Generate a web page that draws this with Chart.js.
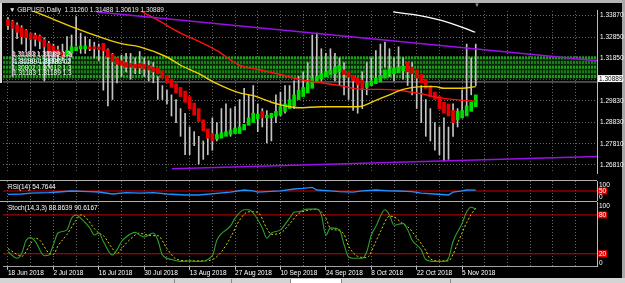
<!DOCTYPE html>
<html><head><meta charset="utf-8">
<script src="https://cdn.jsdelivr.net/npm/chart.js@4.4.0/dist/chart.umd.min.js"></script>
<style>
html,body{margin:0;padding:0;background:#000;width:625px;height:283px;overflow:hidden;font-family:"Liberation Sans",Arial,sans-serif}
.a{position:absolute}
.t{position:absolute;font-size:6.5px;line-height:7px;white-space:pre;color:#fff}
canvas{display:block}
</style></head><body>
<div class="a" style="left:0;top:0;width:625px;height:3px;background:#b4b4b4"></div>
<div class="a" style="left:0;top:3px;width:2px;height:80px;background:#d8d8d8"></div>
<div class="a" style="left:622px;top:0;width:3px;height:283px;background:#a8a8a8"></div>
<div class="a" style="left:0;top:278px;width:625px;height:5px;background:#d4d4d4"></div>
<div class="a" style="left:174px;top:279px;width:56px;height:4px;border-left:1px solid #888;border-right:1px solid #888"></div>
<div class="a" style="left:290px;top:279px;width:50px;height:4px;border-left:1px solid #888;border-right:1px solid #888;background:#fff"></div>
<div class="a" style="left:395px;top:279px;width:55px;height:4px;border-right:1px solid #888"></div>

<div class="a" style="left:3px;top:4px"><canvas id="main" width="622" height="176"></canvas></div>
<div class="a" style="left:3px;top:181px"><canvas id="rsi" width="622" height="20"></canvas></div>
<div class="a" style="left:3px;top:202px"><canvas id="stoch" width="622" height="76"></canvas></div>

<div class="a" style="left:0;top:180px;width:597px;height:1px;background:#b0b0b0"></div>
<div class="a" style="left:0;top:201px;width:597px;height:1px;background:#b0b0b0"></div>

<div class="t" style="left:9px;top:6px;color:#e8e8e8">▼ GBPUSD,Daily  1.31260 1.31488 1.30619 1.30889</div>
<div class="t" style="left:474px;top:2px;color:#8a8aa8;font-size:6px">▼</div>
<div class="t" style="left:12px;top:50px">1.31183 1.31189 1.3</div>
<div class="t" style="left:13px;top:51px;color:#ffc8e0">1.31188 1.31182 1.3</div>
<div class="t" style="left:12px;top:57px;color:#c8ffff">1.31190 1.30802 1.3</div>
<div class="t" style="left:14px;top:58px;color:#ffffff">1.31189 1.31183 02</div>
<div class="t" style="left:12px;top:64px;color:#d0ffd0">1.30802 1.30612 1.3</div>
<div class="t" style="left:13px;top:69px;color:#ffffff">1.31183 1.31189 1.3</div>
<div class="t" style="left:8px;top:183px">RSI(14) 54.7644</div>
<div class="t" style="left:8px;top:204px">Stoch(14,3,3) 88.8639 90.6167</div>

<script>
// ---------- data ----------
const dateLabels = ['18 Jun 2018','2 Jul 2018','16 Jul 2018','30 Jul 2018','13 Aug 2018','27 Aug 2018','10 Sep 2018','24 Sep 2018','8 Oct 2018','22 Oct 2018','5 Nov 2018'];
const gridIdx = [0,5,10,15,20,25,30,35,40,45,50,55,60,65,70,75,80,85,90,95,100,105,110,115,120,125];
const priceTicks = [1.26810,1.27810,1.28830,1.29830,1.30830,1.31850,1.32850,1.33870];
const lastClose = 1.30889;

const haOpen = [1.3369,1.3361,1.3343,1.3330,1.3317,1.3304,1.3295,1.3291,1.3274,1.3256,
1.3243,1.3226,1.3217,1.3200,1.3208,1.3221,1.3230,1.3230,1.3239,1.3239,
1.3239,1.3256,1.3226,1.3204,1.3187,1.3173,1.3165,1.3160,1.3156,1.3160,
1.3156,1.3152,1.3143,1.3139,1.3126,1.3104,1.3086,1.3065,1.3047,1.3030,
1.3004,1.2973,1.2947,1.2894,1.2851,1.2829,1.2803,1.2807,1.2816,1.2825,
1.2829,1.2829,1.2846,1.2868,1.2881,1.2899,1.2934,1.2903,1.2903,1.2912,
1.2916,1.2934,1.2947,1.2960,1.2990,1.3004,1.3021,1.3043,1.3069,1.3086,
1.3099,1.3108,1.3112,1.3121,1.3130,1.3121,1.3104,1.3091,1.3082,1.3047,
1.3056,1.3065,1.3073,1.3091,1.3108,1.3112,1.3117,1.3126,1.3165,1.3143,
1.3130,1.3108,1.3086,1.3056,1.3025,1.3004,1.2977,1.2969,1.2938,1.2894,
1.2903,1.2912,1.2934,1.2956];
const haClose = [1.3339,1.3326,1.3308,1.3287,1.3282,1.3274,1.3274,1.3265,1.3239,1.3221,
1.3217,1.3204,1.3195,1.3221,1.3239,1.3239,1.3243,1.3243,1.3230,1.3230,
1.3226,1.3221,1.3191,1.3169,1.3156,1.3152,1.3143,1.3143,1.3139,1.3139,
1.3134,1.3130,1.3121,1.3112,1.3091,1.3069,1.3047,1.3021,1.3004,1.2977,
1.2947,1.2916,1.2886,1.2842,1.2807,1.2794,1.2825,1.2833,1.2838,1.2846,
1.2855,1.2860,1.2873,1.2903,1.2925,1.2921,1.2903,1.2916,1.2925,1.2934,
1.2956,1.2969,1.2990,1.3012,1.3034,1.3047,1.3069,1.3091,1.3099,1.3112,
1.3121,1.3130,1.3143,1.3152,1.3108,1.3095,1.3078,1.3060,1.3043,1.3069,
1.3078,1.3091,1.3104,1.3130,1.3134,1.3139,1.3143,1.3147,1.3121,1.3112,
1.3091,1.3069,1.3043,1.3004,1.2990,1.2947,1.2925,1.2912,1.2881,1.2934,
1.2938,1.2960,1.2977,1.3012];
const high = [1.3378,1.3365,1.3352,1.3339,1.3321,1.3304,1.3304,1.3295,1.3282,1.3265,
1.3252,1.3243,1.3252,1.3287,1.3295,1.3382,1.3304,1.3287,1.3274,1.3261,
1.3252,1.3252,1.3230,1.3208,1.3187,1.3200,1.3208,1.3208,1.3187,1.3217,
1.3187,1.3173,1.3165,1.3099,1.3056,1.3034,1.3012,1.2990,1.2947,1.2925,
1.2860,1.2838,1.2816,1.2794,1.2816,1.2903,1.2881,1.2947,1.2969,1.2947,
1.2956,1.2990,1.3043,1.3012,1.3056,1.2969,1.2947,1.2938,1.2925,1.3012,
1.3025,1.3056,1.3056,1.3078,1.3099,1.3121,1.3165,1.3295,1.3304,1.3230,
1.3208,1.3230,1.3208,1.3187,1.3165,1.3099,1.3078,1.3078,1.3121,1.3165,
1.3187,1.3221,1.3252,1.3261,1.3230,1.3187,1.3239,1.3187,1.3165,1.3165,
1.3121,1.3056,1.2990,1.2947,1.2881,1.2860,1.2903,1.2860,1.2969,1.2947,
1.3034,1.3252,1.3187,1.3252];
const low = [1.3321,1.3099,1.3278,1.3252,1.3221,1.3217,1.3243,1.3230,1.3078,1.3143,
1.3165,1.3165,1.3173,1.3195,1.3191,1.3243,1.3208,1.3208,1.3221,1.3187,
1.3173,1.3034,1.2960,1.2990,1.3069,1.3099,1.3121,1.3086,1.3112,1.3112,
1.3099,1.3078,1.3069,1.2990,1.2990,1.2969,1.2912,1.2881,1.2816,1.2729,
1.2729,1.2772,1.2685,1.2707,1.2729,1.2750,1.2794,1.2816,1.2838,1.2816,
1.2838,1.2860,1.2881,1.2881,1.2903,1.2838,1.2860,1.2785,1.2794,1.2881,
1.2912,1.2925,1.2956,1.2947,1.2990,1.3012,1.3034,1.3056,1.3099,1.3078,
1.3099,1.3121,1.3078,1.3056,1.3012,1.2990,1.2938,1.2925,1.2947,1.3012,
1.3056,1.3078,1.3099,1.3143,1.3099,1.3078,1.3121,1.3086,1.3056,1.3012,
1.2947,1.2881,1.2816,1.2794,1.2750,1.2729,1.2698,1.2707,1.2816,1.2860,
1.2903,1.2934,1.3012,1.3056];

const maYellowIdx = [0,6,15,20,25,29,35,38,42,46,51,54,58,61,64,69,77,81,84,87,91,94,96,100,103];
const maYellowVal = [1.3452,1.3404,1.3326,1.3287,1.3254,1.3239,1.3191,1.3152,1.3112,1.3065,1.3021,1.3008,1.2977,1.2960,1.2951,1.2956,1.2956,1.2986,1.3012,1.3038,1.3051,1.3051,1.3043,1.3043,1.3051];
const maRedIdx = [26,30,33,38,42,46,51,55,60,64,69,73,78,82,86,91,95,100,103];
const maRedVal = [1.3448,1.3400,1.3365,1.3304,1.3265,1.3221,1.3152,1.3132,1.3108,1.3086,1.3069,1.3056,1.3038,1.3038,1.3034,1.3017,1.2999,1.2986,1.2982];
const trendUpperIdx = [19.6,129.7], trendUpperVal = [1.3404,1.3173];
const trendLowerIdx = [36.1,129.7], trendLowerVal = [1.2663,1.2720];
const whiteIdx = [84.8,90.7,95.2,99.6,102.9], whiteVal = [1.3404,1.3387,1.3365,1.3335,1.3308];
const bidLevel = 1.3073;
const zoneTop = 1.3191, zoneBottom = 1.3086;
const zoneStripes = [1.3187,1.3165,1.3143,1.3121,1.3099];

const rsiIdx = [0,3,5,9,11,14,18,20,23,26,29,32,35,39,42,49,52,54,55,60,63,65,67,68,71,73,76,78,81,84,86,89,91,94,97,98,100,101,103];
const rsiVal = [33,35,39,42,45,50,47,45,35,42,39,42,35,30,30,44,55,51,44,51,60,63,68,55,51,47,44,51,55,51,50,47,39,35,30,44,51,55,54.76];
const rsiLevels = [50];

const stochKIdx = [0,2,3,4,5,6,8,9,10,11,13,14,15,16,18,19,20,21,23,24,25,26,28,29,30,32,33,34,36,38,40,42,45,46,49,50,52,53,54,56,57,58,60,62,63,64,66,68,69,70,71,73,74,75,76,78,79,80,81,83,84,85,87,88,89,91,92,94,96,97,98,100,101,102,103];
const stochKVal = [23,13,20,41,45,39,17,18,34,52,57,75,80,75,60,49,52,39,18,26,39,46,53,49,46,52,41,18,11,8,9,8,17,41,63,75,88,88,83,60,44,52,57,75,84,85,89,89,80,49,60,57,34,15,13,13,23,49,62,88,80,64,67,57,41,26,11,8,8,13,39,67,85,92,88.86];
const stochDIdx = [0,2,3,5,6,7,9,10,11,13,15,16,17,19,20,21,23,24,25,27,29,30,32,33,35,37,40,43,45,47,49,51,53,55,57,58,60,62,64,66,68,70,71,72,74,75,77,79,81,82,84,85,87,88,90,92,93,95,97,98,99,101,102,103];
const stochDVal = [28,19,16,36,44,41,21,19,32,50,72,80,77,59,52,48,28,20,28,43,52,50,48,48,28,12,9,9,11,23,45,72,85,84,59,50,52,66,82,87,89,75,59,57,50,32,16,14,39,54,78,77,66,62,45,25,12,9,9,19,36,68,81,90.62];
const stochLevels = [80,20];

// ---------- setup ----------
const FONT = '"Liberation Sans", Arial, sans-serif';
Chart.defaults.font.family = FONT;
Chart.defaults.font.size = 6.5;
Chart.defaults.color = '#ffffff';
const X_MIN = -1.1, X_MAX = 129.7;
const GRID = '#6a6a6a';
const pts = (idx, val) => idx.map((x, k) => ({x, y: val[k]}));
const flat = v => [{x: X_MIN, y: v}, {x: X_MAX, y: v}];

function xScale(showLabels) {
  return {
    type: 'linear', min: X_MIN, max: X_MAX, offset: false,
    afterBuildTicks: s => { s.ticks = gridIdx.map(v => ({value: v})); },
    grid: {
      color: GRID, lineWidth: 1, offset: false,
      drawTicks: showLabels, tickLength: 3,
      tickColor: c => (c.tick && c.tick.value % 10 === 0 && c.tick.value <= 100) ? '#c8c8c8' : 'rgba(0,0,0,0)'
    },
    border: {display: false, dash: [1, 2]},
    ticks: {
      display: showLabels, autoSkip: false, maxRotation: 0, minRotation: 0, align: 'start', padding: 0,
      color: '#ffffff', font: {size: 6.5, family: FONT},
      callback: v => (v % 10 === 0 && dateLabels[v / 10]) ? dateLabels[v / 10] : ''
    },
    afterFit: s => { s.height = showLabels ? 11.3 : 0; }
  };
}

const priceBox = {
  id: 'priceBox',
  afterDraw(chart) {
    const {ctx, chartArea, scales} = chart;
    const py = scales.y.getPixelForValue(lastClose);
    ctx.save();
    ctx.fillStyle = '#ffffff';
    ctx.fillRect(chartArea.right + 1, py - 3.5, 25, 7);
    ctx.fillStyle = '#000000';
    ctx.font = '6.5px ' + FONT;
    ctx.textBaseline = 'middle';
    ctx.fillText(lastClose.toFixed(5), chartArea.right + 2, py + 0.5);
    ctx.restore();
  }
};

function subLabels(defs) {
  return {
    id: 'subLabels',
    afterDraw(chart) {
      const {ctx, chartArea, scales} = chart;
      ctx.save();
      ctx.font = '6.5px ' + FONT;
      ctx.textBaseline = 'middle';
      defs.forEach(d => {
        let y = scales.y.getPixelForValue(d.v);
        y = Math.min(Math.max(y, chartArea.top + 4), chartArea.bottom - 4);
        if (d.box) {
          ctx.fillStyle = '#e00000';
          ctx.fillRect(chartArea.right + 1, y - 3.5, 9, 7);
        }
        ctx.fillStyle = '#ffffff';
        ctx.fillText(d.t, chartArea.right + 2, y + 0.5);
      });
      ctx.restore();
    }
  };
}

const common = {
  responsive: false, animation: false, devicePixelRatio: 1,
  layout: {padding: 0},
  plugins: {legend: {display: false}, tooltip: {enabled: false}},
  elements: {point: {radius: 0}, line: {tension: 0}}
};

// ---------- main chart ----------
const lineDs = (data, color, width, order, extra) => Object.assign({
  type: 'line', data, borderColor: color, borderWidth: width, pointRadius: 0, order, fill: false
}, extra || {});

const mainDatasets = [
  lineDs(flat(zoneTop), 'rgba(0,0,0,0)', 0, 30, {fill: '+1', backgroundColor: '#062a06'}),
  lineDs(flat(zoneBottom), 'rgba(0,0,0,0)', 0, 30),
];
zoneStripes.forEach((v, k) => mainDatasets.push(lineDs(flat(v), k % 2 ? '#168016' : '#1f9a1f', 3, 25, {borderDash: [2, 1]})));
mainDatasets.push(lineDs(flat(bidLevel), '#8c8c8c', 1, 20));
mainDatasets.push({
  type: 'bar', order: 12, grouped: false, barThickness: 1,
  data: high.map((h, i) => ({x: i, y: [low[i], h]})),
  backgroundColor: '#c4c4c4', borderWidth: 0
});
mainDatasets.push({
  type: 'bar', order: 10, grouped: false, barThickness: 3,
  data: haOpen.map((o, i) => ({x: i, y: [o, haClose[i]]})),
  backgroundColor: haOpen.map((o, i) => haClose[i] >= o ? '#00e000' : '#e80000'),
  borderWidth: 0
});
mainDatasets.push(lineDs(pts(maYellowIdx, maYellowVal), '#f0d000', 1.4, 3, {cubicInterpolationMode: 'monotone'}));
mainDatasets.push(lineDs(pts(maRedIdx, maRedVal), '#ff1010', 1.4, 3, {cubicInterpolationMode: 'monotone'}));
mainDatasets.push(lineDs(pts(trendUpperIdx, trendUpperVal), '#9a10e8', 1.5, 2));
mainDatasets.push(lineDs(pts(trendLowerIdx, trendLowerVal), '#9a10e8', 1.5, 2));
mainDatasets.push(lineDs(pts(whiteIdx, whiteVal), '#ffffff', 1.3, 2, {cubicInterpolationMode: 'monotone'}));

new Chart(document.getElementById('main'), {
  type: 'bar',
  data: {datasets: mainDatasets},
  options: Object.assign({}, common, {
    scales: {
      x: xScale(false),
      y: {
        type: 'linear', position: 'right', min: 1.2642, max: 1.3409,
        afterBuildTicks: s => { s.ticks = priceTicks.map(v => ({value: v})); },
        grid: {color: GRID, drawTicks: false},
        border: {display: true, color: '#bcbcbc', width: 1, dash: [1, 2]},
        ticks: {padding: 3, color: '#ffffff', autoSkip: false, font: {size: 6.5, family: FONT}, callback: v => v.toFixed(5)},
        afterFit: s => { s.width = 28; }
      }
    }
  }),
  plugins: [priceBox]
});

// ---------- RSI ----------
const subY = (min, max) => ({
  type: 'linear', position: 'right', min, max,
  grid: {display: false, drawTicks: false},
  border: {display: true, color: '#bcbcbc', width: 1},
  ticks: {display: false},
  afterFit: s => { s.width = 28; }
});

new Chart(document.getElementById('rsi'), {
  type: 'line',
  data: {datasets: [
    ...rsiLevels.map(v => lineDs(flat(v), '#d00000', 1, 5)),
    lineDs(pts(rsiIdx, rsiVal), '#1e90ff', 1.3, 1)
  ]},
  options: Object.assign({}, common, {
    scales: {x: xScale(false), y: subY(0, 100)}
  }),
  plugins: [subLabels([{v: 100, t: '100'}, {v: 50, t: '50', box: true}, {v: 0, t: '0'}])]
});

// ---------- Stochastic ----------
new Chart(document.getElementById('stoch'), {
  type: 'line',
  data: {datasets: [
    ...stochLevels.map(v => lineDs(flat(v), '#d00000', 1, 5)),
    lineDs(pts(stochDIdx, stochDVal), '#d8d800', 1, 2, {borderDash: [2, 2], cubicInterpolationMode: 'monotone'}),
    lineDs(pts(stochKIdx, stochKVal), '#2fa02f', 1.1, 1, {cubicInterpolationMode: 'monotone'})
  ]},
  options: Object.assign({}, common, {
    scales: {
      x: Object.assign(xScale(true), {border: {display: true, color: '#a0a0a0', dash: [1, 2]}}),
      y: subY(0, 100)
    }
  }),
  plugins: [subLabels([{v: 100, t: '100'}, {v: 80, t: '80', box: true}, {v: 20, t: '20', box: true}, {v: 0, t: '0'}])]
});
</script>
</body></html>
